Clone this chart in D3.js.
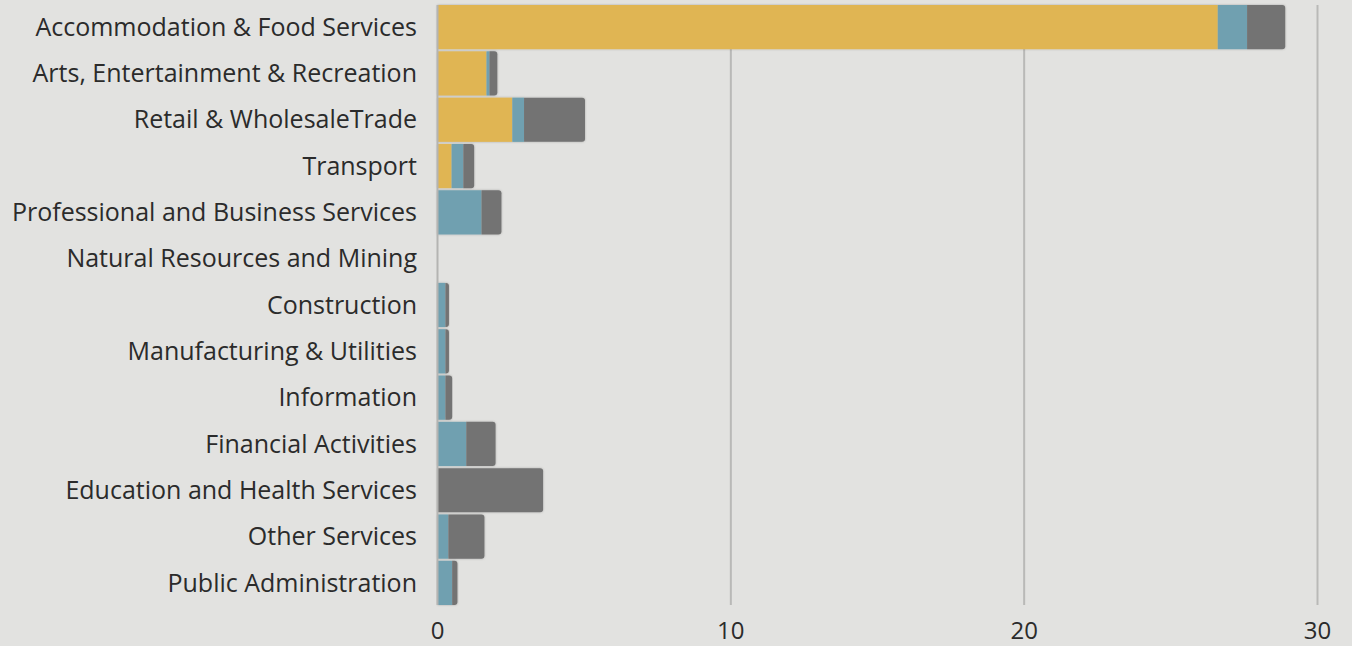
<!DOCTYPE html>
<html>
<head>
<meta charset="utf-8">
<script src="https://cdn.jsdelivr.net/npm/d3@7"></script>
<style>
  body { margin: 0; background: #e2e2e0; }
  text { font-family: "Open Sans", sans-serif; fill: #2b2b2b; }
</style>
</head>
<body>
<div id="chart"></div>
<script>
var industries = [
  "Accommodation & Food Services",
  "Arts, Entertainment & Recreation",
  "Retail & WholesaleTrade",
  "Transport",
  "Professional and Business Services",
  "Natural Resources and Mining",
  "Construction",
  "Manufacturing & Utilities",
  "Information",
  "Financial Activities",
  "Education and Health Services",
  "Other Services",
  "Public Administration"
];
var seriesA = [26.6, 1.67, 2.55, 0.48, 0, 0, 0, 0, 0, 0, 0, 0, 0];
var seriesB = [1.0, 0.1, 0.4, 0.4, 1.5, 0, 0.27, 0.27, 0.27, 0.98, 0, 0.37, 0.5];
var seriesC = [1.3, 0.27, 2.08, 0.37, 0.68, 0, 0.12, 0.12, 0.23, 1.0, 3.6, 1.23, 0.18];
var xTicks = [0, 10, 20, 30];

var keys = ["a", "b", "c"];
var colors = {a: "#e0b553", b: "#6fa0b0", c: "#737373"};

var data = industries.map((name, i) => ({name: name, a: seriesA[i], b: seriesB[i], c: seriesC[i]}));

var width = 1352, height = 646,
    margin = {top: 5, right: 34.5, bottom: 41, left: 437.5};

var svg = d3.select("#chart").append("svg")
  .attr("width", width)
  .attr("height", height);

var defs = svg.append("defs");
var f = defs.append("filter").attr("id", "shadow")
  .attr("x", "-5%").attr("y", "-10%").attr("width", "110%").attr("height", "120%");
f.append("feDropShadow").attr("dx", 0).attr("dy", 0).attr("stdDeviation", 1)
  .attr("flood-color", "#000").attr("flood-opacity", 0.25);

var x = d3.scaleLinear().domain([0, 30]).range([margin.left, width - margin.right]);
var y = d3.scaleBand().domain(industries).range([margin.top, height - margin.bottom]).paddingInner(0.045);

// gridlines
svg.append("g").selectAll("line")
  .data(xTicks.filter(d => d > 0))
  .enter().append("line")
  .attr("x1", d => x(d)).attr("x2", d => x(d))
  .attr("y1", margin.top).attr("y2", height - margin.bottom)
  .attr("stroke", "#b9b9b7").attr("stroke-width", 2);

var stack = d3.stack().keys(keys)(data);

function roundRight(x0, x1, y0, h, r) {
  r = Math.min(r, (x1 - x0), h / 2);
  return `M${x0},${y0}H${x1 - r}Q${x1},${y0} ${x1},${y0 + r}V${y0 + h - r}Q${x1},${y0 + h} ${x1 - r},${y0 + h}H${x0}Z`;
}

// bars
var rows = svg.append("g").selectAll("g")
  .data(data)
  .enter().append("g")
  .attr("filter", "url(#shadow)");

rows.each(function(d, i) {
  var g = d3.select(this);
  var lastKey = null;
  keys.forEach(k => { if (d[k] > 0) lastKey = k; });
  stack.forEach(layer => {
    var seg = layer[i];
    if (seg[1] - seg[0] <= 0) return;
    var x0 = x(seg[0]), x1 = x(seg[1]);
    if (layer.key === lastKey) {
      g.append("path")
        .attr("d", roundRight(x0, x1, y(d.name), y.bandwidth(), 3))
        .attr("fill", colors[layer.key]);
    } else {
      g.append("rect")
        .attr("x", x0).attr("y", y(d.name))
        .attr("width", x1 - x0).attr("height", y.bandwidth())
        .attr("fill", colors[layer.key]);
    }
  });
});

// zero line
svg.append("line")
  .attr("x1", x(0)).attr("x2", x(0))
  .attr("y1", margin.top).attr("y2", height - margin.bottom)
  .attr("stroke", "#b4b4b2").attr("stroke-width", 2);

// category labels
svg.append("g").selectAll("text")
  .data(industries)
  .enter().append("text")
  .attr("x", 417)
  .attr("y", d => y(d) + y.bandwidth() / 2)
  .attr("dy", "0.35em")
  .attr("text-anchor", "end")
  .style("font-size", "25px")
  .text(d => d);

// x tick labels
svg.append("g").selectAll("text")
  .data(xTicks)
  .enter().append("text")
  .attr("x", d => x(d))
  .attr("y", 639)
  .attr("text-anchor", "middle")
  .style("font-size", "24px")
  .text(d => d);
</script>
</body>
</html>
